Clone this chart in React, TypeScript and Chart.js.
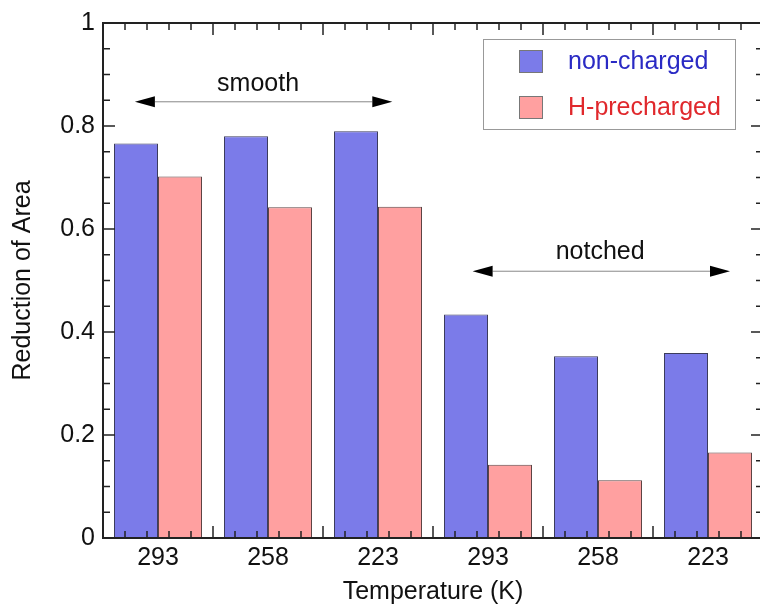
import React, { useEffect, useRef } from "react";
import { Chart, registerables } from "chart.js";

Chart.register(...registerables);

// ---- data ----
const categories = ["293", "258", "223", "293", "258", "223"];
const seriesNames = ["non-charged", "H-precharged"];
const nonCharged = [0.766, 0.78, 0.79, 0.434, 0.353, 0.359];
const hPrecharged = [0.702, 0.642, 0.643, 0.142, 0.112, 0.166];
const yMin = 0;
const yMax = 1;
const yStep = 0.2;

// group annotations (category-index units / value units)
const groupNames = ["smooth", "notched"];
const groupStart = [-0.21, 2.86];
const groupEnd = [2.13, 5.2];
const groupArrowY = [0.847, 0.518];
const groupLabelX = [0.91, 4.02];
const groupLabelY = [0.881, 0.556];

// ---- styles ----
const FONT = "'Liberation Sans', Arial, Helvetica, sans-serif";
const BLUE = "#7b7be9";
const PINK = "#ffa0a0";
const BLUE_TEXT = "#2a2ac4";
const RED_TEXT = "#e0282c";

const decorPlugin = {
  id: "decor",
  afterDatasetsDraw(chart: any) {
    const { ctx, chartArea: a, scales } = chart;
    const x = scales.x;
    const y = scales.y;
    ctx.save();
    const line = (x1: number, y1: number, x2: number, y2: number) => {
      ctx.beginPath();
      ctx.moveTo(x1, y1);
      ctx.lineTo(x2, y2);
      ctx.stroke();
    };
    // y ticks (inward, both sides)
    ctx.strokeStyle = "#222";
    ctx.lineWidth = 1.5;
    for (let i = 0; i <= 20; i++) {
      const py = y.getPixelForValue(i * 0.05);
      const len = i % 4 === 0 ? 12 : 7;
      line(a.left, py, a.left + len, py);
      line(a.right - len, py, a.right, py);
    }
    // x ticks (inward, top and bottom)
    for (let j = 0; j <= categories.length * 5; j++) {
      const px = x.getPixelForValue(-0.5 + j * 0.2);
      const len = j % 5 === 0 ? 12 : 7;
      line(px, a.bottom, px, a.bottom - len);
      line(px, a.top, px, a.top + len);
    }
    // frame
    ctx.lineWidth = 2;
    ctx.strokeRect(a.left, a.top, a.right - a.left, a.bottom - a.top);

    // group arrows and labels
    for (let g = 0; g < groupNames.length; g++) {
      const x1 = x.getPixelForValue(groupStart[g]);
      const x2 = x.getPixelForValue(groupEnd[g]);
      const py = y.getPixelForValue(groupArrowY[g]);
      const head = 20;
      const hw = 5.5;
      ctx.strokeStyle = "#888";
      ctx.lineWidth = 1;
      line(x1 + head, py, x2 - head, py);
      ctx.fillStyle = "#000";
      ctx.beginPath();
      ctx.moveTo(x1, py);
      ctx.lineTo(x1 + head, py - hw);
      ctx.lineTo(x1 + head, py + hw);
      ctx.closePath();
      ctx.fill();
      ctx.beginPath();
      ctx.moveTo(x2, py);
      ctx.lineTo(x2 - head, py - hw);
      ctx.lineTo(x2 - head, py + hw);
      ctx.closePath();
      ctx.fill();
      ctx.font = `25px ${FONT}`;
      ctx.textAlign = "center";
      ctx.textBaseline = "middle";
      ctx.fillStyle = "#111";
      ctx.fillText(
        groupNames[g],
        x.getPixelForValue(groupLabelX[g]),
        y.getPixelForValue(groupLabelY[g])
      );
    }

    // legend
    const lx = 483;
    const ly = 39;
    ctx.strokeStyle = "#999";
    ctx.lineWidth = 1;
    ctx.fillStyle = "#fff";
    ctx.fillRect(lx, ly, 253, 91);
    ctx.strokeRect(lx + 0.5, ly + 0.5, 252, 90);
    const textColors = [BLUE_TEXT, RED_TEXT];
    chart.data.datasets.forEach((ds: any, i: number) => {
      const sy = ly + 11 + i * 46;
      ctx.fillStyle = ds.backgroundColor;
      ctx.fillRect(519, sy, 24, 23);
      ctx.strokeStyle = "#777";
      ctx.strokeRect(519.5, sy + 0.5, 23, 22);
      ctx.font = `25px ${FONT}`;
      ctx.textAlign = "left";
      ctx.textBaseline = "middle";
      ctx.fillStyle = textColors[i];
      ctx.fillText(ds.label, 568, sy + 12);
    });
    ctx.restore();
  },
};

export default function App() {
  const ref = useRef<HTMLCanvasElement | null>(null);
  useEffect(() => {
    if (!ref.current) return;
    const chart = new Chart(ref.current, {
      type: "bar",
      data: {
        labels: categories,
        datasets: [
          {
            label: seriesNames[0],
            data: nonCharged,
            backgroundColor: BLUE,
            borderColor: "#3c3c5c",
            borderWidth: 1,
            categoryPercentage: 0.8,
            barPercentage: 1,
          },
          {
            label: seriesNames[1],
            data: hPrecharged,
            backgroundColor: PINK,
            borderColor: "#5c4444",
            borderWidth: 1,
            categoryPercentage: 0.8,
            barPercentage: 1,
          },
        ],
      },
      options: {
        responsive: false,
        devicePixelRatio: 1,
        animation: false,
        layout: { padding: { left: 0, top: 16, right: 7, bottom: 0 } },
        plugins: {
          legend: { display: false },
          tooltip: { enabled: false },
        },
        scales: {
          x: {
            type: "category",
            offset: true,
            grid: { display: false, drawTicks: false, offset: true },
            border: { display: false },
            ticks: {
              color: "#111",
              font: { family: FONT, size: 25 },
              padding: 5,
              maxRotation: 0,
              autoSkip: false,
            },
            title: {
              display: true,
              text: "Temperature (K)",
              color: "#111",
              font: { family: FONT, size: 25 },
              padding: { top: 0, bottom: 0 },
            },
            afterFit: (s: any) => {
              s.height = 69;
            },
          },
          y: {
            min: yMin,
            max: yMax,
            grid: { display: false, drawTicks: false },
            border: { display: false },
            ticks: {
              stepSize: yStep,
              color: "#111",
              font: { family: FONT, size: 25 },
              padding: 8,
              callback: (v: any) => String(Math.round(Number(v) * 10) / 10),
            },
            title: {
              display: true,
              text: "Reduction of Area",
              color: "#111",
              font: { family: FONT, size: 25 },
              padding: { top: 8, bottom: 0 },
            },
            afterFit: (s: any) => {
              s.width = 103;
            },
          },
        },
      },
      plugins: [decorPlugin],
    } as any);
    return () => chart.destroy();
  }, []);
  return (
    <div
      style={{
        position: "fixed",
        left: 0,
        top: 0,
        width: 760,
        height: 607,
        overflow: "hidden",
        background: "#fff",
      }}
    >
      <canvas ref={ref} width={770} height={607} style={{ display: "block" }} />
    </div>
  );
}
